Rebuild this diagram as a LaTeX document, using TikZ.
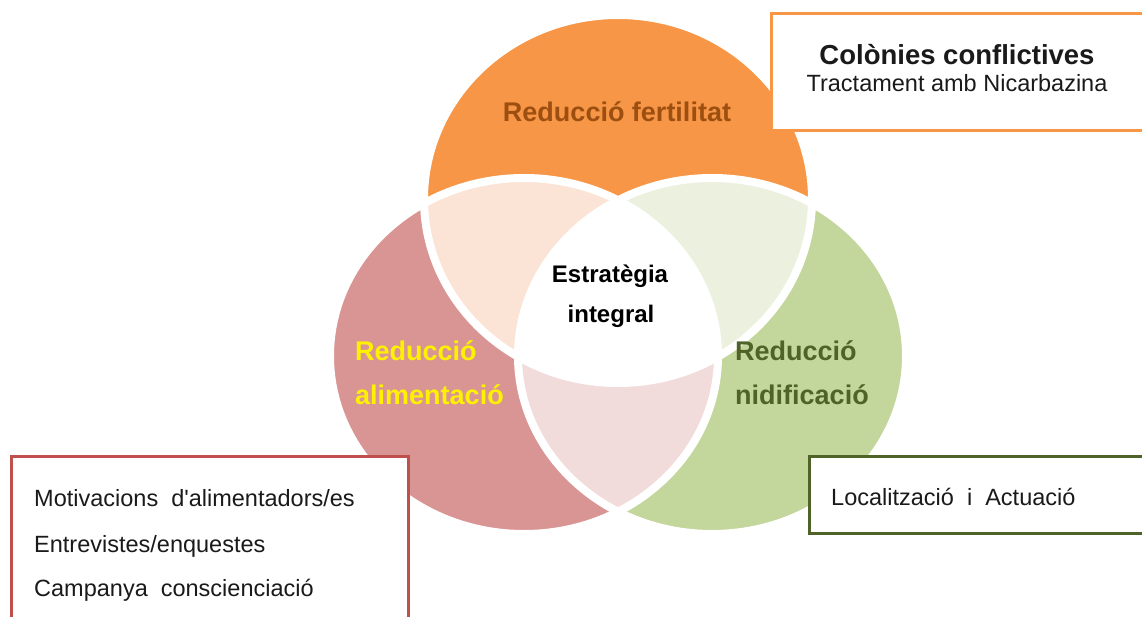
\documentclass[tikz,border=0pt]{standalone}
\usepackage{fontspec}
\setmainfont{Liberation Sans}
\definecolor{cOrange}{HTML}{F79646}
\definecolor{cRed}{HTML}{D99594}
\definecolor{cGreen}{HTML}{C3D69B}
\definecolor{cPeach}{HTML}{FBE4D5}
\definecolor{cLGreen}{HTML}{EBF1DE}
\definecolor{cPink}{HTML}{F2DCDB}
\definecolor{tOrange}{HTML}{9C4F10}
\definecolor{tGreen}{HTML}{4F6228}
\definecolor{tYellow}{HTML}{FFF200}
\definecolor{bRed}{HTML}{C0504D}
\definecolor{bGreen}{HTML}{4F6228}
\definecolor{txt}{HTML}{1A1A1A}
\begin{document}
\begin{tikzpicture}[x=1pt,y=-1pt,
  biglabel/.style={font=\fontsize{27}{30}\selectfont\bfseries, inner sep=0pt},
  midlabel/.style={font=\fontsize{24}{26}\selectfont\bfseries, inner sep=0pt, text=black},
  bodytext/.style={font=\fontsize{23.5}{26}\selectfont, inner sep=0pt, text=txt},
  infobox/.style={draw, line width=3pt, fill=white, rectangle, inner sep=0pt},
  sep/.style={draw=white, line width=8pt}]
\useasboundingbox (0,0) rectangle (1142,617);
\clip (0,0) rectangle (1142,617);
\def\ellO{(618,199) ellipse [x radius=194pt, y radius=184pt]}
\def\ellR{(524,356) ellipse [x radius=194pt, y radius=178pt]}
\def\ellG{(712,356) ellipse [x radius=194pt, y radius=178pt]}
% base circles
\fill[cRed] \ellR;
\fill[cGreen] \ellG;
\fill[cOrange] \ellO;
% lenses
\begin{scope}\clip \ellO; \fill[cPeach] \ellR; \end{scope}
\begin{scope}\clip \ellO; \fill[cLGreen] \ellG; \end{scope}
\begin{scope}\clip \ellR; \fill[cPink] \ellG; \end{scope}
\begin{scope}\clip \ellO; \clip \ellR; \fill[white] \ellG; \end{scope}
% white separators
\path[sep] \ellO;
\path[sep] \ellR;
\path[sep] \ellG;
% circle labels
\node[biglabel, text=tOrange, anchor=base] (lfert) at (617,122) {Reducció fertilitat};
\node[biglabel, text=tYellow, anchor=base west] (lalim1) at (355,360) {Reducció};
\node[biglabel, text=tYellow, anchor=base west] (lalim2) at (355,404) {alimentació};
\node[biglabel, text=tGreen, anchor=base west] (lnid1) at (735,360) {Reducció};
\node[biglabel, text=tGreen, anchor=base west] (lnid2) at (735,404) {nidificació};
\node[midlabel, anchor=base] (lest1) at (610,283) {Estratègia};
\node[midlabel, anchor=base] (lest2) at (611,323) {integral};
% boxes
\node[infobox, draw=cOrange, anchor=north west, minimum width=420pt, minimum height=117pt] (boxTR) at (770,12) {};
\node[font=\fontsize{27.5}{30}\selectfont\bfseries, inner sep=0pt, text=txt, anchor=base] (tcol) at (957,65) {Colònies conflictives};
\node[bodytext, anchor=base] (ttract) at (957,92) {Tractament amb Nicarbazina};
\node[infobox, draw=bRed, anchor=north west, minimum width=397pt, minimum height=200pt] (boxBL) at (10,455) {};
\node[bodytext, anchor=base west] (tmot) at (34,506) {Motivacions\ \ d\textquotesingle alimentadors/es};
\node[bodytext, anchor=base west] (tent) at (34,552) {Entrevistes/enquestes};
\node[bodytext, anchor=base west] (tcamp) at (34,596) {Campanya\ \ conscienciació};
\node[infobox, draw=bGreen, anchor=north west, minimum width=400pt, minimum height=77pt] (boxBR) at (808,455) {};
\node[bodytext, anchor=base west] (tloc) at (831,505) {Localització\ \ i\ \ Actuació};
\end{tikzpicture}
\end{document}
